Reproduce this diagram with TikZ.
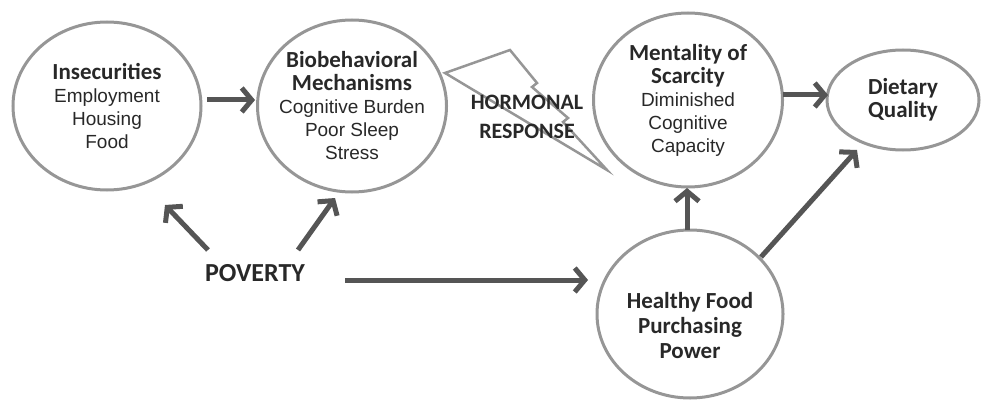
\documentclass[tikz,border=0pt]{standalone}
\usepackage{fontspec}
\setmainfont{Liberation Sans}
\newfontfamily\carl{Carlito}
\usetikzlibrary{arrows.meta,shapes.geometric}
\definecolor{circ}{RGB}{150,150,150}
\definecolor{arrc}{RGB}{85,85,85}
\definecolor{txtc}{RGB}{40,40,40}
\newcommand\ttl[1]{{\fontsize{23}{23}\selectfont\carl\bfseries #1}}
\begin{document}
\begin{tikzpicture}[x=1pt,y=-1pt,
  blob/.style={ellipse, draw=circ, line width=3pt, inner sep=0pt},
  lbl/.style={align=center, text=txtc, font=\fontsize{19}{23}\selectfont, inner sep=0pt},
  arr/.style={draw=arrc, line width=5pt, -{Straight Barb[length=10pt,width=24pt]}}]
\useasboundingbox (0,0) rectangle (981,401);
% bubbles
\node[blob, minimum width=188pt, minimum height=168pt] (ins) at (107,106) {};
\node[blob, minimum width=189pt, minimum height=172pt] (bio) at (352,106) {};
\node[blob, minimum width=189pt, minimum height=174pt] (men) at (688,100) {};
\node[blob, minimum width=152pt, minimum height=100pt] (die) at (903,100) {};
\node[blob, minimum width=186pt, minimum height=168pt] (hea) at (690,314) {};
% lightning bolt
\draw[draw=circ, line width=2.5pt, line join=miter] (445,73) -- (510,50) -- (537,83) -- (532,87) -- (568,118) -- (563,122) -- (607,170) -- cycle;
% texts
\node[lbl] (insT) at (ins.center) {\ttl{Insecurities}\\Employment\\Housing\\Food};
\node[lbl] (bioT) at (bio.center) {\ttl{Biobehavioral}\\\ttl{Mechanisms}\\Cognitive Burden\\Poor Sleep\\Stress};
\node[lbl] (menT) at (men.center) {\ttl{Mentality of}\\\ttl{Scarcity}\\Diminished\\Cognitive\\Capacity};
\node[lbl] (dieT) at (die.center) {\ttl{Dietary}\\\ttl{Quality}};
\node[lbl, font=\fontsize{23}{25}\selectfont] (heaT) at ([yshift=-12]hea.center) {\ttl{Healthy Food}\\\ttl{Purchasing}\\\ttl{Power}};
\node[lbl, font=\fontsize{22}{29}\selectfont\carl\bfseries] (hor) at (527,117) {HORMONAL\\RESPONSE};
\node[lbl, font=\fontsize{26}{26}\selectfont\carl\bfseries] (pov) at (255,273) {POVERTY};
% arrows
\draw[arr] ([shift={(100,-6)}]ins.center) -- ([shift={(-97,-6)}]bio.center);
\draw[arr] ([shift={(95,-5)}]men.center) -- ([shift={(-75,-5)}]die.center);
\draw[arr] ([shift={(-3,-84)}]hea.center) -- ([shift={(-1,88)}]men.center);
\draw[arr] ([shift={(71,-57)}]hea.center) -- ([shift={(-46,50)}]die.center);
\draw[arr] ([shift={(-47,-23)}]pov.center) -- ([shift={(58,99)}]ins.center);
\draw[arr] ([shift={(43,-23)}]pov.center) -- ([shift={(-17,92)}]bio.center);
\draw[arr] ([shift={(90,7)}]pov.center) -- ([shift={(-102,-34)}]hea.center);
\end{tikzpicture}
\end{document}
